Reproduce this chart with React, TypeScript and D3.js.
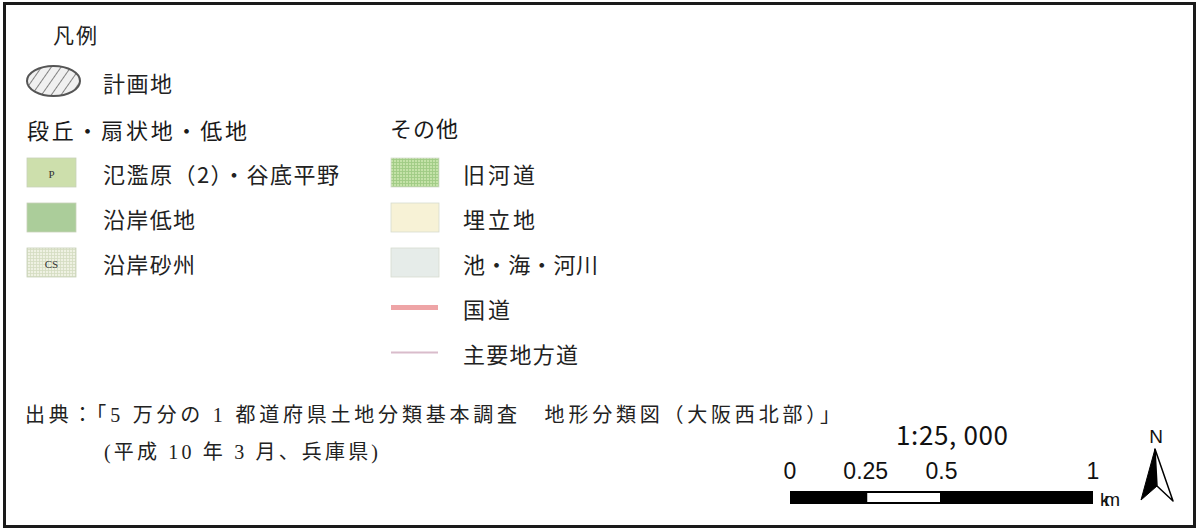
import React from 'react';
import * as d3 from 'd3';

const legendTitle = '凡例';
const planLabel = '計画地';
const leftHeader = '段丘・扇状地・低地';
const rightHeader = 'その他';
const leftLabels = ['氾濫原（2）・谷底平野', '沿岸低地', '沿岸砂州'];
const leftCodes = ['P', '', 'CS'];
const rightLabels = ['旧河道', '埋立地', '池・海・河川', '国道', '主要地方道'];
const rightKinds = ['grid', 'fill', 'fill', 'thick', 'thin'];
const citationLines = [
  '出典：「5 万分の 1 都道府県土地分類基本調査　地形分類図（大阪西北部）」',
  '(平成 10 年 3 月、兵庫県)',
];
const scaleLabel = '1:25, 000';
const scaleTicks = [0, 0.25, 0.5, 1];
const scaleUnit = 'km';

// styles (kept separate from data)
const leftFills = ['#cddfac', '#abcd9a', 'url(#gridCS)'];
const rightFills = ['url(#gridOld)', '#f7f2d6', '#e6ece9', '#eea4a6', '#d9bccb'];
const leftTextWidths = [236, 92, 92];
const rightTextWidths = [72, 72, 135, 47, 115];

const JP = '"Noto Sans CJK JP", "Noto Sans", sans-serif';
const SERIF = '"Liberation Serif", "Noto Sans CJK JP", serif';
const SANS = '"Liberation Sans", "Noto Sans CJK JP", sans-serif';

export default function App() {
  const row = d3.scaleLinear().domain([0, 1]).range([172.5, 217.5]);
  const sx = d3.scaleLinear().domain([0, 1]).range([790, 1093]);
  const sw = 49;
  const sh = 29;
  const lx = 27;
  const rx = 391;
  const barTop = 491;
  const barH = 13;

  return (
    <svg width={1198} height={530} style={{ position: 'absolute', left: 0, top: 0, background: '#fff' }}>
      <defs>
        <pattern id="hatch" width="8" height="8" patternUnits="userSpaceOnUse" patternTransform="rotate(35)">
          <rect width="8" height="8" fill="#f0f0f0" />
          <line x1="0" y1="0" x2="0" y2="8" stroke="#444" strokeWidth="1.3" />
        </pattern>
        <pattern id="gridCS" width="3" height="3" patternUnits="userSpaceOnUse">
          <rect width="3" height="3" fill="#eef1e2" />
          <path d="M0 0.5H3M0.5 0V3" stroke="#d3dcc0" strokeWidth="0.8" />
        </pattern>
        <pattern id="gridOld" width="3" height="3" patternUnits="userSpaceOnUse">
          <rect width="3" height="3" fill="#c4e2a8" />
          <path d="M0 0.5H3M0.5 0V3" stroke="#9fcb84" strokeWidth="0.9" />
        </pattern>
      </defs>

      <rect x={4.5} y={3.5} width={1190} height={523} fill="#fff" stroke="#1a1a1a" strokeWidth={3} />

      <text x={53} y={34} dominantBaseline="central" fontFamily={JP} fontSize={21} textLength={44} fill="#222">{legendTitle}</text>

      <ellipse cx={53.5} cy={81} rx={26.5} ry={15} fill="url(#hatch)" stroke="#555" strokeWidth={2} />
      <text x={103} y={82} dominantBaseline="central" fontFamily={JP} fontSize={22} textLength={69} fill="#222">{planLabel}</text>

      <text x={27} y={129} dominantBaseline="central" fontFamily={JP} fontSize={22} fontWeight={400} textLength={220} fill="#1a1a1a">{leftHeader}</text>
      <text x={390} y={127} dominantBaseline="central" fontFamily={JP} fontSize={22} fontWeight={400} textLength={68} fill="#1a1a1a">{rightHeader}</text>

      {leftLabels.map((lab, i) => {
        const cy = row(i);
        return (
          <g key={'l' + i}>
            <rect x={lx} y={cy - sh / 2} width={sw} height={sh} fill={leftFills[i]} stroke="#c7d1b8" strokeWidth={0.8} />
            {leftCodes[i] && (
              <text x={lx + sw / 2} y={cy + 1} dominantBaseline="central" textAnchor="middle" fontFamily={SERIF} fontSize={11} fill="#333">{leftCodes[i]}</text>
            )}
            <text x={103} y={cy} dominantBaseline="central" fontFamily={JP} fontSize={22} textLength={leftTextWidths[i]} fill="#222">{lab}</text>
          </g>
        );
      })}

      {rightLabels.map((lab, i) => {
        const cy = row(i);
        const kind = rightKinds[i];
        return (
          <g key={'r' + i}>
            {(kind === 'grid' || kind === 'fill') && (
              <rect x={rx} y={cy - sh / 2} width={sw - 1} height={sh} fill={rightFills[i]} stroke="#d6dccf" strokeWidth={0.8} />
            )}
            {kind === 'thick' && (
              <line x1={rx} x2={rx + sw - 2} y1={cy} y2={cy} stroke={rightFills[i]} strokeWidth={5} />
            )}
            {kind === 'thin' && (
              <line x1={rx} x2={rx + sw - 2} y1={cy} y2={cy} stroke={rightFills[i]} strokeWidth={2} />
            )}
            <text x={463} y={cy} dominantBaseline="central" fontFamily={JP} fontSize={22} textLength={rightTextWidths[i]} fill="#222">{lab}</text>
          </g>
        );
      })}

      <text x={25} y={415} dominantBaseline="central" fontFamily={SERIF} fontSize={20} textLength={815} fill="#222">{citationLines[0]}</text>
      <text x={104} y={452} dominantBaseline="central" fontFamily={SERIF} fontSize={20} textLength={274} fill="#222">{citationLines[1]}</text>

      <text x={952} y={445} textAnchor="middle" fontFamily={JP} fontSize={26} textLength={112} fill="#111">{scaleLabel}</text>
      {scaleTicks.map((t) => (
        <text key={'t' + t} x={sx(t)} y={479} textAnchor="middle" fontFamily={SANS} fontSize={23} fill="#111">{String(t)}</text>
      ))}
      <rect x={sx(0)} y={barTop} width={sx(1) - sx(0)} height={barH} fill="#000" />
      <rect x={sx(0.25) + 1.5} y={barTop + 2} width={sx(0.5) - sx(0.25) - 3} height={barH - 4} fill="#fff" />
      <text x={1100} y={506} fontFamily={SANS} fontSize={19} textLength={20} fill="#111">{scaleUnit}</text>

      <text x={1156} y={443} textAnchor="middle" fontFamily={SANS} fontSize={19} fill="#111">N</text>
      <path d="M1155,449 L1141,500 L1157,486 Z" fill="#000" stroke="#000" strokeWidth={1} strokeLinejoin="round" />
      <path d="M1155,449 L1157,486 L1173,501 Z" fill="#fff" stroke="#000" strokeWidth={1.5} strokeLinejoin="round" />
    </svg>
  );
}
